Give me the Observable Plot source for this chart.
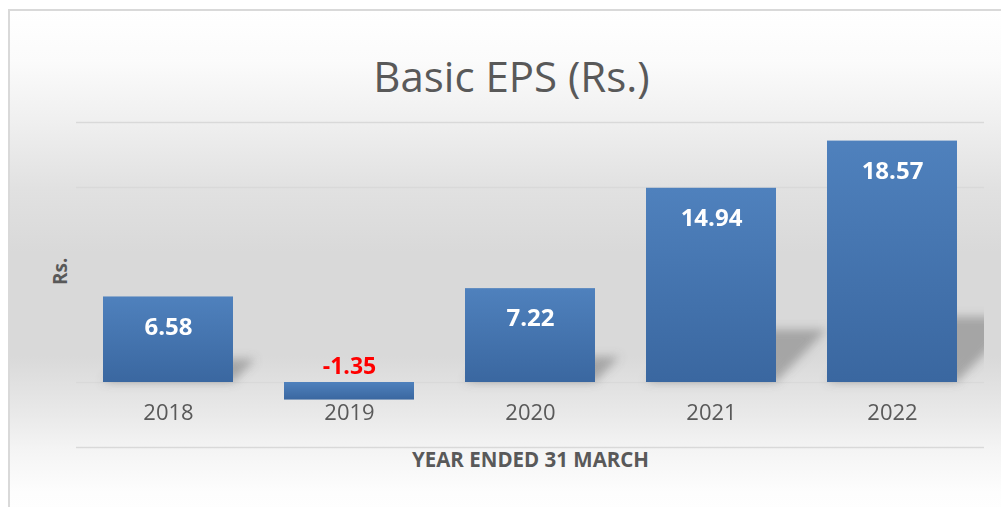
<!DOCTYPE html>
<html><head><meta charset="utf-8">
<script src="https://cdn.jsdelivr.net/npm/d3@7"></script>
<script src="https://cdn.jsdelivr.net/npm/@observablehq/plot@0.6"></script>
<style>
html,body{margin:0;padding:0;background:#fff;}
#wrap{position:relative;width:1001px;height:507px;overflow:hidden;}
#bg{position:absolute;left:8px;top:9px;width:1010px;height:520px;border-left:2px solid #d9d9d9;border-top:2px solid #d9d9d9;
background:linear-gradient(to bottom,#ffffff 0px,#fbfbfb 50px,#efefef 113px,#e1e1e1 178px,#d9d9d9 241px,#d9d9d9 345px,#e9e9e9 403px,#f4f4f4 438px,#fdfdfd 481px,#ffffff 520px);}
#chart{position:absolute;left:0;top:0;}
</style></head>
<body><div id="wrap"><div id="bg"></div><div id="chart"></div></div>
<script>
const years = ["2018", "2019", "2020", "2021", "2022"];
const eps = [6.58, -1.35, 7.22, 14.94, 18.57];
const gridTicks = [-5, 0, 5, 10, 15, 20];
const title = "Basic EPS (Rs.)";
const xTitle = "YEAR ENDED 31 MARCH";
const yTitle = "Rs.";

const data = years.map((year, i) => ({year, eps: eps[i]}));
const pos = data.filter(d => d.eps > 0);
const neg = data.filter(d => d.eps < 0);

const chart = Plot.plot({
  width: 1001, height: 507,
  marginTop: 122, marginBottom: 60, marginLeft: 76, marginRight: 17,
  style: {background: "transparent", fontFamily: "'Open Sans', sans-serif", overflow: "visible"},
  x: {domain: years, paddingInner: 0.284, paddingOuter: 0.142, axis: null},
  y: {domain: [-5, 20], axis: null},
  marks: [
    Plot.gridY(gridTicks, {stroke: "#d9d9d9", strokeOpacity: 1, strokeWidth: 1.5}),
    Plot.barY(pos, {x: "year", y: "eps", fill: "#6f6f6f", fillOpacity: 0.5, clip: true}),
    Plot.barY(data, {x: "year", y: "eps", fill: "url(#barGrad)"}),
    Plot.text(data, {x: "year", y: () => 0, text: "year", dy: 30, fontSize: 22, fill: "#595959"}),
    Plot.text(pos, {x: "year", y: "eps", text: d => d.eps.toFixed(2), dy: 30, fontSize: 24, fontWeight: "bold", fill: "#ffffff"}),
    Plot.text(neg, {x: "year", y: () => 0, text: d => d.eps.toFixed(2), dy: -16, fontSize: 23, fontWeight: "bold", fill: "#ff0000"}),
    Plot.text([title], {frameAnchor: "top", dy: -60, dx: -19, fontSize: 42, fill: "#595959"}),
    Plot.text([xTitle], {frameAnchor: "bottom", dy: 19, fontSize: 20.5, fontWeight: "bold", fill: "#595959"}),
    Plot.text([yTitle], {frameAnchor: "left", dx: -16, rotate: -90, fontSize: 19, fontWeight: "bold", fill: "#595959"})
  ]
});

const sel = d3.select(chart);
const defs = sel.insert("defs", ":first-child");
const lg = defs.append("linearGradient").attr("id", "barGrad")
  .attr("x1", 0).attr("y1", 0).attr("x2", 0).attr("y2", 1);
lg.append("stop").attr("offset", "0%").attr("stop-color", "#4f81bd");
lg.append("stop").attr("offset", "100%").attr("stop-color", "#3a67a0");
defs.append("filter").attr("id", "shadowBlur")
  .attr("x", "-50%").attr("y", "-50%").attr("width", "200%").attr("height", "200%")
  .append("feGaussianBlur").attr("stdDeviation", 5);

const barGroups = sel.selectAll('g[aria-label="bar"]').nodes();
const shadowG = d3.select(barGroups[0]);
shadowG.selectAll("rect")
  .style("transform-box", "fill-box")
  .style("transform-origin", "0 100%")
  .style("transform", "skewX(-44deg) scaleY(0.27)");
shadowG.attr("filter", "url(#shadowBlur)");

document.getElementById("chart").appendChild(chart);
</script>
</body></html>
